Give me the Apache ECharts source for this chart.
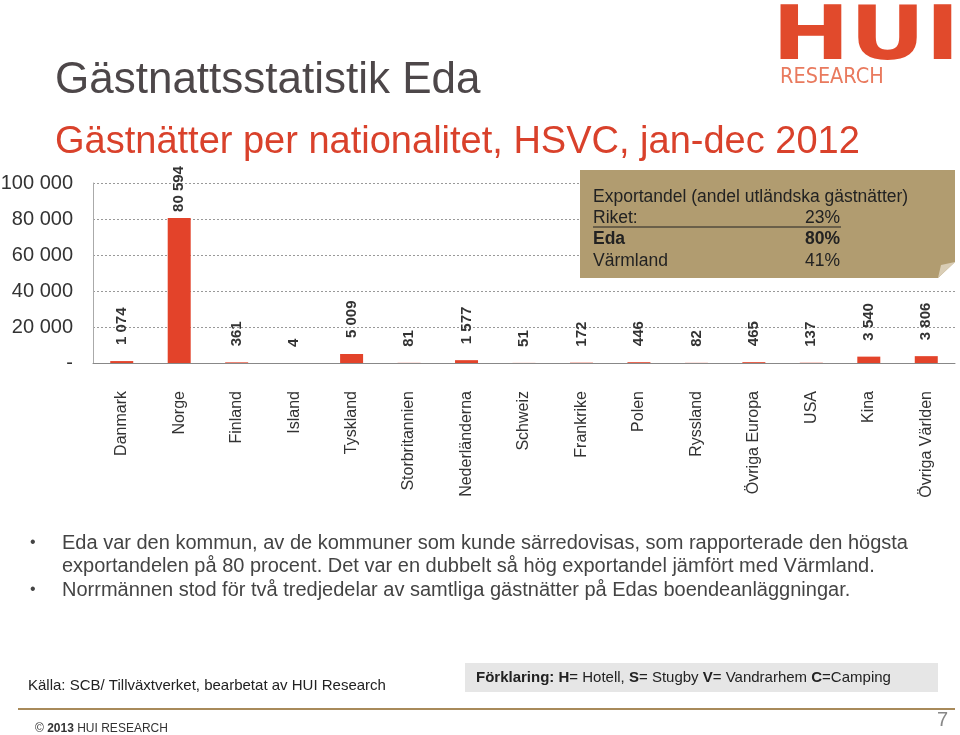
<!DOCTYPE html>
<html><head><meta charset="utf-8">
<script src="https://cdn.jsdelivr.net/npm/echarts@6/dist/echarts.min.js"></script>
<style>html,body{margin:0;padding:0;background:#fff}#c{width:960px;height:735px}</style>
</head><body><div id="c"></div>
<script>
const categories = ['Danmark','Norge','Finland','Island','Tyskland','Storbritannien','Nederländerna','Schweiz','Frankrike','Polen','Ryssland','Övriga Europa','USA','Kina','Övriga Världen'];
const nights = [1074, 80594, 361, 4, 5009, 81, 1577, 51, 172, 446, 82, 465, 137, 3540, 3806];
const yTicks = [0, 20000, 40000, 60000, 80000, 100000];

const fmt = v => v === 0 ? '-' : String(v).replace(/\B(?=(\d{3})+(?!\d))/g, ' ');
const F = 'Liberation Sans, Arial, sans-serif';
const chart = echarts.init(document.getElementById('c'));
chart.setOption({
  animation: false,
  grid: { left: 93, right: 5, top: 183, bottom: 372, containLabel: false, outerBoundsMode: 'none' },
  xAxis: {
    type: 'category', data: categories,
    axisTick: { show: false },
    axisLine: { lineStyle: { color: '#888', width: 1 } },
    axisLabel: { rotate: 90, margin: 28, fontFamily: F, fontSize: 16, color: '#333', interval: 0 }
  },
  yAxis: {
    type: 'value', min: yTicks[0], max: yTicks[yTicks.length - 1], interval: 20000,
    axisLine: { show: true, lineStyle: { color: '#aaa' } },
    axisTick: { show: false },
    axisLabel: { formatter: fmt, fontFamily: F, fontSize: 20, color: '#333', margin: 20 },
    splitLine: { lineStyle: { type: [2, 2], color: '#999', width: 1 } }
  },
  series: [{
    type: 'bar', barWidth: 23,
    data: nights.map((v, i) => ({ value: v, label: { distance: v > 50000 ? 6 : 16 } })),
    itemStyle: { color: '#E3432A' },
    label: { show: true, position: 'top', rotate: 90, align: 'left', verticalAlign: 'middle',
      formatter: p => fmt(p.value), fontFamily: F, fontSize: 15, fontWeight: 'bold', color: '#333' }
  }],
  graphic: [
    { type: 'text', left: 55, top: 59, style: { text: 'Gästnattsstatistik Eda', font: '44px ' + F, fill: '#4D4749' } },
    { type: 'text', left: 55, top: 124, style: { text: 'Gästnätter per nationalitet, HSVC, jan-dec 2012', font: '38px ' + F, fill: '#D9412B' } },
    { type: 'text', x: 772, y: 2, scaleX: 1.55, scaleY: 1.25, style: { text: 'HUI', font: 'bold 60px DejaVu Sans, sans-serif', fill: '#E14A2C' } },
    { type: 'text', x: 780, y: 67, scaleX: 0.92, style: { text: 'RESEARCH', font: '21px DejaVu Sans, sans-serif', fill: '#E97A5E' } },
    { type: 'polygon', z: 50, shape: { points: [[580,170],[955,170],[955,262],[938,278],[580,278]] }, style: { fill: '#B19C70' } },
    { type: 'polygon', z: 51, shape: { points: [[955,262],[938,278],[941,265]] }, style: { fill: '#D9CDB5' } },
    { type: 'text', z: 52, x: 593, y: 197, style: { text: 'Exportandel (andel utländska gästnätter)', font: '17.5px ' + F, fill: '#222', verticalAlign: 'middle' } },
    { type: 'text', z: 52, x: 593, y: 218, style: { text: 'Riket:', font: '17.5px ' + F, fill: '#222', verticalAlign: 'middle' } },
    { type: 'text', z: 52, x: 840, y: 218, style: { text: '23%', font: '17.5px ' + F, fill: '#222', align: 'right', verticalAlign: 'middle' } },
    { type: 'line', z: 52, shape: { x1: 593, y1: 227, x2: 841, y2: 227 }, style: { stroke: '#222', lineWidth: 1 } },
    { type: 'text', z: 52, x: 593, y: 239, style: { text: 'Eda', font: 'bold 17.5px ' + F, fill: '#222', verticalAlign: 'middle' } },
    { type: 'text', z: 52, x: 840, y: 239, style: { text: '80%', font: 'bold 17.5px ' + F, fill: '#222', align: 'right', verticalAlign: 'middle' } },
    { type: 'text', z: 52, x: 593, y: 261, style: { text: 'Värmland', font: '17.5px ' + F, fill: '#222', verticalAlign: 'middle' } },
    { type: 'text', z: 52, x: 840, y: 261, style: { text: '41%', font: '17.5px ' + F, fill: '#222', align: 'right', verticalAlign: 'middle' } },
    { type: 'text', x: 30, y: 543, style: { text: '•', font: '16px ' + F, fill: '#444', verticalAlign: 'middle' } },
    { type: 'text', x: 62, y: 543, style: { text: 'Eda var den kommun, av de kommuner som kunde särredovisas, som rapporterade den högsta', font: '20px ' + F, fill: '#444', verticalAlign: 'middle' } },
    { type: 'text', x: 62, y: 566, style: { text: 'exportandelen på 80 procent. Det var en dubbelt så hög exportandel jämfört med Värmland.', font: '20px ' + F, fill: '#444', verticalAlign: 'middle' } },
    { type: 'text', x: 30, y: 590, style: { text: '•', font: '16px ' + F, fill: '#444', verticalAlign: 'middle' } },
    { type: 'text', x: 62, y: 590, style: { text: 'Norrmännen stod för två tredjedelar av samtliga gästnätter på Edas boendeanläggningar.', font: '20px ' + F, fill: '#444', verticalAlign: 'middle' } },
    { type: 'text', x: 28, y: 686, style: { text: 'Källa: SCB/ Tillväxtverket, bearbetat av HUI Research', font: '15px ' + F, fill: '#222', verticalAlign: 'middle' } },
    { type: 'rect', shape: { x: 465, y: 663, width: 473, height: 29 }, style: { fill: '#E6E6E6' } },
    { type: 'text', x: 476, y: 678, style: { verticalAlign: 'middle', rich: { b: { font: 'bold 15px ' + F, fill: '#222' }, n: { font: '15px ' + F, fill: '#222' } },
      text: '{b|Förklaring: H}{n|= Hotell, }{b|S}{n|= Stugby }{b|V}{n|= Vandrarhem }{b|C}{n|=Camping}' } },
    { type: 'line', shape: { x1: 18, y1: 709, x2: 955, y2: 709 }, style: { stroke: '#A88A5A', lineWidth: 2 } },
    { type: 'text', x: 35, y: 729, style: { verticalAlign: 'middle', rich: { b: { font: 'bold 12px ' + F, fill: '#333' }, n: { font: '12px ' + F, fill: '#333' } },
      text: '{n|© }{b|2013}{n| HUI RESEARCH}' } },
    { type: 'text', x: 937, y: 720, style: { text: '7', font: '20px ' + F, fill: '#888', verticalAlign: 'middle' } }
  ]
});
</script></body></html>
